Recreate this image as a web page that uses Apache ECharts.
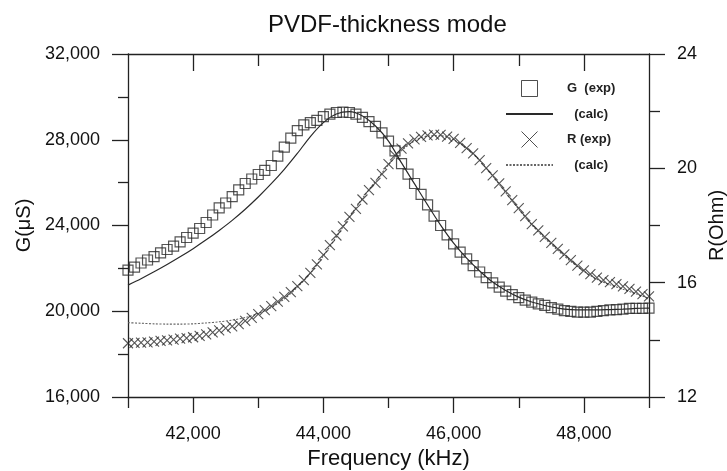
<!DOCTYPE html>
<html>
<head>
<meta charset="utf-8">
<script src="https://cdn.jsdelivr.net/npm/echarts@6/dist/echarts.min.js"></script>
<style>html,body{margin:0;padding:0;background:#fff;}#c{width:727px;height:471px;}</style>
</head>
<body>
<div id="c"></div>
<script>
// Frequencies (kHz) of the experimental points
const freqExp = [41000,41100,41200,41300,41400,41500,41600,41700,41800,41900,
  42000,42100,42200,42300,42400,42500,42600,42700,42800,42900,
  43000,43100,43200,43300,43400,43500,43600,43700,43800,43900,
  44000,44100,44200,44300,44400,44500,44600,44700,44800,44900,
  45000,45100,45200,45300,45400,45500,45600,45700,45800,45900,
  46000,46100,46200,46300,46400,46500,46600,46700,46800,46900,
  47000,47100,47200,47300,47400,47500,47600,47700,47800,47900,
  48000,48100,48200,48300,48400,48500,48600,48700,48800,48900,49000];
// G (exp), µS
const gExp = [21920,22060,22250,22390,22550,22720,22880,23040,23240,23440,
  23640,23860,24140,24490,24820,25050,25350,25660,25960,26170,
  26380,26570,26800,27240,27660,28080,28430,28690,28800,28900,
  29080,29200,29270,29290,29270,29200,29040,28850,28620,28320,
  27940,27480,26890,26400,25960,25450,24960,24440,24000,23560,
  23140,22760,22440,22130,21830,21570,21320,21130,20940,20780,
  20640,20520,20430,20340,20270,20170,20100,20030,19990,19960,
  19960,19960,19990,20030,20060,20080,20100,20130,20130,20130,20150];
// R (exp), Ohm
const rExp = [13.88,13.89,13.90,13.91,13.94,13.96,13.98,14.01,14.04,14.06,
  14.09,14.14,14.19,14.26,14.33,14.41,14.47,14.55,14.66,14.77,
  14.90,15.04,15.18,15.34,15.50,15.67,15.88,16.09,16.34,16.64,
  16.97,17.31,17.65,17.97,18.30,18.58,18.91,19.24,19.49,19.80,
  20.15,20.45,20.69,20.87,21.01,21.10,21.15,21.18,21.17,21.11,
  21.03,20.89,20.71,20.52,20.29,20.01,19.75,19.47,19.19,18.89,
  18.61,18.33,18.05,17.83,17.60,17.39,17.18,16.99,16.79,16.60,
  16.43,16.30,16.18,16.09,16.02,15.95,15.87,15.78,15.69,15.60,15.52];
// Frequencies of the calculated curves
const freqCalc = [41000,41200,41400,41600,41800,42000,42200,42400,42600,42800,
  43000,43200,43400,43600,43800,44000,44200,44400,44600,44800,
  45000,45200,45400,45600,45800,46000,46200,46400,46600,46800,
  47000,47200,47400,47600,47800,48000,48200,48400,48600,48800,49000];
const gCalc = [21220,21520,21840,22180,22540,22920,23330,23770,24240,24760,
  25330,25950,26620,27360,28150,28800,29200,29310,29110,28640,
  27940,26920,25940,24960,24020,23180,22480,21880,21360,20970,
  20660,20430,20270,20150,20080,20060,20060,20080,20100,20130,20150];
const rCalc = [14.60,14.58,14.56,14.55,14.55,14.56,14.59,14.63,14.69,14.78,
  14.92,15.13,15.43,15.84,16.33,16.94,17.60,18.29,18.95,19.55,
  20.12,20.62,20.96,21.13,21.14,21.00,20.70,20.27,19.73,19.15,
  18.57,18.02,17.55,17.13,16.74,16.40,16.12,15.93,15.77,15.61,15.45];
// Tick values
const xMajorTicks = [42000,44000,46000,48000];
const xMinorTicks = [41000,43000,45000,47000,49000];
const xTopMinorTicks = [43000,45000,47000];

const FONT = "'Liberation Sans', Arial, sans-serif";
const INK = '#222';
const axisLineStyle = {color: INK, width: 1.3};
const fmt = v => Number(v).toLocaleString('en-US');
const pairs = (xs, ys) => xs.map((x, i) => [x, ys[i]]);

const X_PATH = 'path://M0,0L10,10M10,0L0,10';
const SQ_PATH = 'path://M0,0H10V10H0Z';
const hiddenSymbol = {color: 'transparent', borderColor: 'transparent', borderWidth: 0, opacity: 0};

const baseX = {type: 'value', min: 41000, max: 49000, interval: 1000, splitLine: {show: false}};

const chart = echarts.init(document.getElementById('c'));
chart.setOption({
  animation: false,
  backgroundColor: '#fff',
  textStyle: {fontFamily: FONT},
  title: {
    text: 'PVDF-thickness mode', left: 268, top: 13, padding: 0,
    textStyle: {fontFamily: FONT, fontSize: 24, fontWeight: 'normal', color: '#111'}
  },
  grid: {left: 128, right: 78, top: 54, bottom: 74, containLabel: false, outerBoundsMode: 'none'},
  legend: {
    orient: 'vertical', left: 505, top: 80, padding: 0, itemWidth: 47, itemHeight: 16, itemGap: 10.5,
    selectedMode: false,
    textStyle: {fontFamily: FONT, fontSize: 13, fontWeight: 'bold', color: '#222', padding: [0, 0, 0, 9]},
    formatter: n => ({'G (exp)': 'G  (exp)', 'G (calc)': '  (calc)', 'R (exp)': 'R (exp)', 'R (calc)': '  (calc)'})[n],
    data: [
      {name: 'G (exp)', icon: SQ_PATH, itemStyle: {color: 'transparent', borderColor: INK, borderWidth: 1}},
      {name: 'G (calc)', itemStyle: hiddenSymbol},
      {name: 'R (exp)', icon: X_PATH, itemStyle: {color: 'transparent', borderColor: INK, borderWidth: 1}},
      {name: 'R (calc)', itemStyle: hiddenSymbol}
    ]
  },
  xAxis: [
    Object.assign({}, baseX, {
      position: 'bottom',
      axisLine: {show: true, onZero: false, lineStyle: axisLineStyle},
      axisTick: {show: true, length: 16, customValues: xMajorTicks, lineStyle: axisLineStyle},
      axisLabel: {show: true, customValues: xMajorTicks, margin: 28, fontSize: 18, color: '#111', fontFamily: FONT, formatter: fmt},
      name: 'Frequency (kHz)', nameLocation: 'middle', nameGap: 51,
      nameTextStyle: {fontSize: 22, color: '#111', fontFamily: FONT}
    }),
    Object.assign({}, baseX, {
      position: 'bottom',
      axisLine: {show: false, onZero: false},
      axisTick: {show: true, length: 11, customValues: xMinorTicks, lineStyle: axisLineStyle},
      axisLabel: {show: false}
    }),
    Object.assign({}, baseX, {
      position: 'top',
      axisLine: {show: true, onZero: false, lineStyle: axisLineStyle},
      axisTick: {show: true, inside: true, length: 17, customValues: xMajorTicks, lineStyle: axisLineStyle},
      axisLabel: {show: false}
    }),
    Object.assign({}, baseX, {
      position: 'top',
      axisLine: {show: false, onZero: false},
      axisTick: {show: true, inside: true, length: 12, customValues: xTopMinorTicks, lineStyle: axisLineStyle},
      axisLabel: {show: false}
    })
  ],
  yAxis: [
    {
      type: 'value', position: 'left', min: 16000, max: 32000, interval: 4000,
      axisLine: {show: true, onZero: false, lineStyle: axisLineStyle},
      axisTick: {show: true, length: 16, lineStyle: axisLineStyle},
      minorTick: {show: true, splitNumber: 2, length: 10, lineStyle: axisLineStyle},
      splitLine: {show: false}, minorSplitLine: {show: false},
      axisLabel: {margin: 28, fontSize: 18, color: '#111', fontFamily: FONT, formatter: fmt},
      name: 'G(μS)', nameLocation: 'middle', nameGap: 89,
      nameTextStyle: {fontSize: 20, color: '#111', fontFamily: FONT}
    },
    {
      type: 'value', position: 'right', min: 12, max: 24, interval: 4,
      axisLine: {show: true, onZero: false, lineStyle: axisLineStyle},
      axisTick: {show: true, length: 16, lineStyle: axisLineStyle},
      minorTick: {show: true, splitNumber: 2, length: 11, lineStyle: axisLineStyle},
      splitLine: {show: false}, minorSplitLine: {show: false},
      axisLabel: {margin: 28, fontSize: 18, color: '#111', fontFamily: FONT},
      name: 'R(Ohm)', nameLocation: 'middle', nameGap: 58,
      nameTextStyle: {fontSize: 20, color: '#111', fontFamily: FONT}
    }
  ],
  series: [
    {
      name: 'G (calc)', type: 'line', xAxisIndex: 0, yAxisIndex: 0,
      data: pairs(freqCalc, gCalc), smooth: 0.3, symbol: 'none', showSymbol: false,
      lineStyle: {color: '#2a2a2a', width: 1.2}, itemStyle: {color: '#2a2a2a'},
      emphasis: {disabled: true}, z: 2
    },
    {
      name: 'R (calc)', type: 'line', xAxisIndex: 0, yAxisIndex: 1,
      data: pairs(freqCalc, rCalc), smooth: 0.3, symbol: 'none', showSymbol: false,
      lineStyle: {color: '#666', width: 1.1, type: [2, 1.5]}, itemStyle: {color: '#666'},
      emphasis: {disabled: true}, z: 2
    },
    {
      name: 'G (exp)', type: 'scatter', xAxisIndex: 0, yAxisIndex: 0,
      data: pairs(freqExp, gExp), symbol: 'rect', symbolSize: 10,
      itemStyle: {color: 'transparent', borderColor: '#2a2a2a', borderWidth: 1.2},
      emphasis: {disabled: true}, z: 3
    },
    {
      name: 'R (exp)', type: 'scatter', xAxisIndex: 0, yAxisIndex: 1,
      data: pairs(freqExp, rExp), symbol: X_PATH, symbolSize: 10,
      itemStyle: {color: 'transparent', borderColor: '#2a2a2a', borderWidth: 1.1},
      emphasis: {disabled: true}, z: 3
    }
  ]
});
</script>
</body>
</html>
